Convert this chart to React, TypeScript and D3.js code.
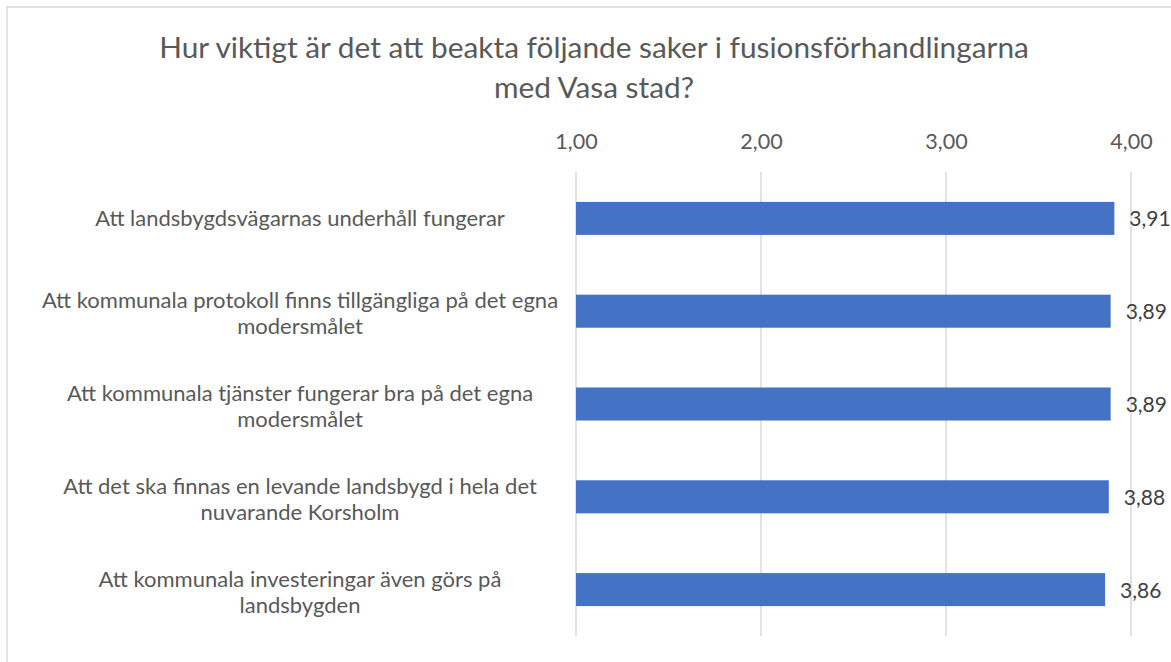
import React, { useEffect, useRef } from 'react';
import * as d3 from 'd3';

// chart data
const titleLines = [
  'Hur viktigt är det att beakta följande saker i fusionsförhandlingarna',
  'med Vasa stad?',
];
const categories = [
  'Att landsbygdsvägarnas underhåll fungerar',
  'Att kommunala protokoll finns tillgängliga på det egna\nmodersmålet',
  'Att kommunala tjänster fungerar bra på det egna\nmodersmålet',
  'Att det ska finnas en levande landsbygd i hela det\nnuvarande Korsholm',
  'Att kommunala investeringar även görs på\nlandsbygden',
];
const values = [3.91, 3.89, 3.89, 3.88, 3.86];
const tickValues = [1, 2, 3, 4];

const W = 1171;
const H = 662;
const FONT = 'Lato, "Open Sans", sans-serif';

export default function App() {
  const svgRef = useRef<SVGSVGElement>(null);

  useEffect(() => {
    const svg = d3.select(svgRef.current);
    svg.selectAll('*').remove();

    const locale = d3.formatLocale({ decimal: ',', thousands: ' ', grouping: [3], currency: ['', ' €'] });
    const fmt = locale.format('.2f');

    const left = 576, right = 1131, top = 172, bottom = 636;

    const x = d3.scaleLinear().domain([1, 4]).range([left, right]);
    const y = d3
      .scaleBand<string>()
      .domain(categories)
      .range([top, bottom])
      .paddingInner(0.644)
      .paddingOuter(0.322);

    // outer chart border (cut off at right/bottom like the screenshot)
    svg
      .append('rect')
      .attr('x', 7)
      .attr('y', 7)
      .attr('width', W + 20)
      .attr('height', H + 20)
      .attr('fill', '#fff')
      .attr('stroke', '#d9d9d9')
      .attr('stroke-width', 1.5);

    // title
    svg
      .append('text')
      .attr('text-anchor', 'middle')
      .attr('font-family', FONT)
      .attr('font-size', 29.8)
      .attr('fill', '#595959')
      .selectAll('tspan')
      .data(titleLines)
      .enter()
      .append('tspan')
      .attr('x', 594)
      .attr('y', (d, i) => 58 + i * 40)
      .text((d) => d);

    // gridlines
    svg
      .append('g')
      .selectAll('line')
      .data(tickValues)
      .enter()
      .append('line')
      .attr('x1', (d) => x(d))
      .attr('x2', (d) => x(d))
      .attr('y1', top)
      .attr('y2', bottom)
      .attr('stroke', '#d9d9d9')
      .attr('stroke-width', 1.5);

    // top axis labels
    const axis = svg
      .append('g')
      .attr('transform', `translate(0,${top})`)
      .call(
        d3
          .axisTop(x)
          .tickValues(tickValues)
          .tickSize(0)
          .tickPadding(23)
          .tickFormat((d) => fmt(d as number))
      );
    axis.select('.domain').remove();
    axis
      .selectAll('text')
      .attr('font-family', FONT)
      .attr('font-size', 21.5)
      .attr('fill', '#595959');

    // bars
    svg
      .append('g')
      .selectAll('rect')
      .data(values)
      .enter()
      .append('rect')
      .attr('x', x(1))
      .attr('y', (d, i) => y(categories[i]) as number)
      .attr('width', (d) => x(d) - x(1))
      .attr('height', y.bandwidth())
      .attr('fill', '#4472C4');

    // value labels
    svg
      .append('g')
      .selectAll('text')
      .data(values)
      .enter()
      .append('text')
      .attr('x', (d) => x(d) + 15)
      .attr('y', (d, i) => (y(categories[i]) as number) + y.bandwidth() / 2 + 8)
      .attr('font-family', FONT)
      .attr('font-size', 21)
      .attr('fill', '#404040')
      .text((d) => fmt(d));

    // category labels, centred lines
    const lab = svg
      .append('g')
      .selectAll('text')
      .data(categories)
      .enter()
      .append('text')
      .attr('text-anchor', 'middle')
      .attr('font-family', FONT)
      .attr('font-size', 22)
      .attr('fill', '#595959');
    lab.each(function (d) {
      const lines = d.split('\n');
      const c = (y(d) as number) + y.bandwidth() / 2;
      const n = lines.length;
      d3.select(this)
        .selectAll('tspan')
        .data(lines)
        .enter()
        .append('tspan')
        .attr('x', 300)
        .attr('y', (l, i) => c + 8 + (n > 1 ? 2 : 0) + (i - (n - 1) / 2) * 26)
        .text((l) => l);
    });
  }, []);

  return (
    <svg
      ref={svgRef}
      width={W}
      height={H}
      style={{ position: 'absolute', left: 0, top: 0, display: 'block', background: '#fff' }}
    />
  );
}
